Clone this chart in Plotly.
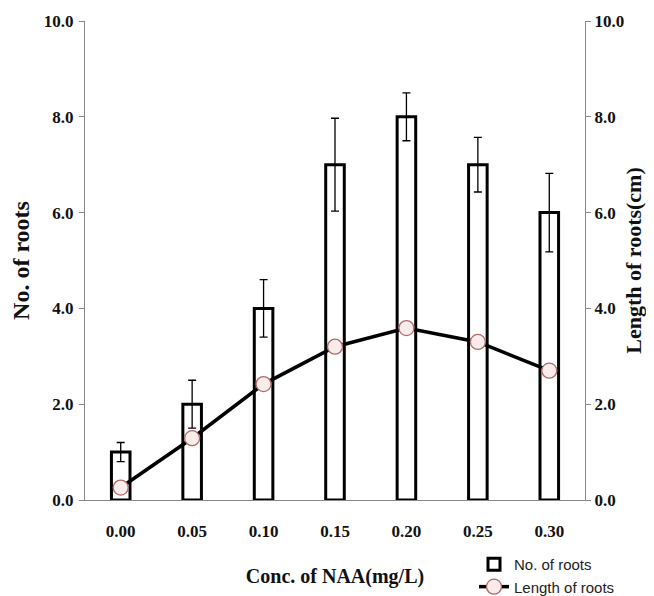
import plotly.graph_objects as go

categories = ["0.00", "0.05", "0.10", "0.15", "0.20", "0.25", "0.30"]
num_roots = [1.0, 2.0, 4.0, 7.0, 8.0, 7.0, 6.0]
num_roots_err = [0.2, 0.5, 0.6, 0.97, 0.5, 0.57, 0.82]
len_roots = [0.26, 1.29, 2.42, 3.2, 3.59, 3.3, 2.7]
y_ticks = [0, 2, 4, 6, 8, 10]

serif = "Liberation Serif"

fig = go.Figure()
fig.add_trace(go.Bar(
    x=categories, y=num_roots, name="No. of roots",
    marker=dict(color="white", line=dict(color="black", width=3)),
    width=0.26,
    error_y=dict(type="data", array=num_roots_err, color="black", thickness=1.3, width=4),
))
fig.add_trace(go.Scatter(
    x=categories, y=len_roots, name="Length of roots", yaxis="y2",
    mode="lines+markers",
    line=dict(color="black", width=3.5),
    marker=dict(symbol="circle", size=15, color="#fbecec", line=dict(color="#b06a6a", width=1.3)),
))

axis_font = dict(family=serif, size=17, color="#111", weight="bold")
xtitle_font = dict(family=serif, size=20, color="#111", weight="bold")
ytitle_font = dict(family=serif, size=24, color="#111", weight="bold")
y2title_font = dict(family=serif, size=22, color="#111", weight="bold")

# page body has an 8px margin, so the figure is sized to fit the window
fig.update_layout(
    width=646, height=588,
    margin=dict(l=77, r=69, t=13, b=96, autoexpand=False),
    paper_bgcolor="white", plot_bgcolor="white",
    showlegend=True,
    legend=dict(x=0.778, y=-0.1, xanchor="left", yanchor="top",
                font=dict(family="Liberation Sans", size=15, color="#222"),
                bgcolor="rgba(0,0,0,0)", tracegroupgap=0, itemwidth=30),
    xaxis=dict(showline=True, linecolor="#888", linewidth=1, ticks="", automargin=False,
               tickfont=axis_font, showgrid=False, ticklabelstandoff=16,
               title=dict(text="Conc. of NAA(mg/L)", font=xtitle_font, standoff=28)),
    yaxis=dict(range=[0, 10], tickvals=y_ticks, tickformat=".1f", showline=True, automargin=False,
               linecolor="#888", linewidth=1, ticks="outside", ticklen=5, tickcolor="#888",
               tickfont=axis_font, showgrid=False, zeroline=False, ticklabelstandoff=2,
               title=dict(text="No. of roots", font=ytitle_font, standoff=8)),
    yaxis2=dict(range=[0, 10], tickvals=y_ticks, tickformat=".1f", overlaying="y", side="right",
                showline=True, linecolor="#888", linewidth=1, ticks="outside", ticklen=5,
                automargin=False,
                tickcolor="#888", tickfont=axis_font, showgrid=False, zeroline=False,
                title=dict(text="Length of roots(cm)", font=y2title_font, standoff=2)),
)

fig.write_html("out.html")
